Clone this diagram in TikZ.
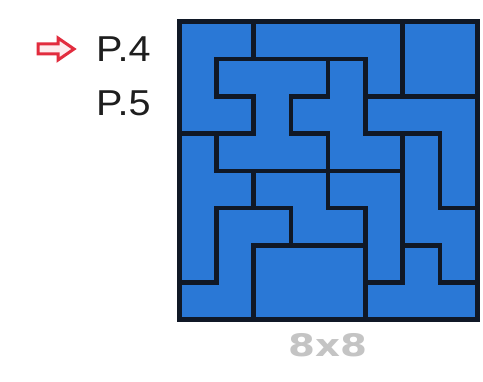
\documentclass[tikz,border=0pt]{standalone}
\usepackage{fontspec}
\setmainfont{Liberation Sans}
\newfontfamily\grayfont{DejaVu Sans}
\definecolor{tileblue}{RGB}{42,120,214}
\definecolor{wallc}{RGB}{16,24,38}
\definecolor{arrowred}{RGB}{226,44,62}
\definecolor{arrowfill}{RGB}{253,236,238}
\definecolor{labgray}{RGB}{196,196,196}
\definecolor{labtext}{RGB}{30,30,30}
\begin{document}
\begin{tikzpicture}[x=1pt,y=-1pt,
  wall/.style={draw=wallc,line width=4.5pt,line cap=rect,line join=miter},
  plabel/.style={font=\fontsize{36}{40}\selectfont,text=labtext,inner sep=0pt,anchor=base west}]
\useasboundingbox (0,0) rectangle (483,382);
\fill[white] (0,0) rectangle (483,382);
% arrow
\draw[draw=arrowred,fill=arrowfill,line width=3pt,line join=miter]
  (38,44) -- (58,44) -- (58,38) -- (74,49) -- (58,60) -- (58,54) -- (38,54) -- cycle;
\node[plabel] (p4) at (96,62) {\scalebox{1.1}[1]{P.4}};
\node[plabel] (p5) at (96,116) {\scalebox{1.1}[1]{P.5}};
\begin{scope}[shift={(179,22)},x=37.25pt,y=-37.25pt]
  \fill[tileblue] (0,0) rectangle (8,8);
  \draw[wall] (1,2)--(1,1)--(5,1)--(5,3)--(7,3)--(7,5)--(8,5);
  \draw[wall] (2,0)--(2,1);
  \draw[wall] (6,0)--(6,2);
  \draw[wall] (5,2)--(8,2);
  \draw[wall] (1,2)--(2,2)--(2,3)--(0,3);
  \draw[wall] (4,1)--(4,2)--(3,2)--(3,3)--(4,3)--(4,5)--(5,5)--(5,8);
  \draw[wall] (1,3)--(1,4)--(6,4);
  \draw[wall] (6,3)--(6,7)--(5,7);
  \draw[wall] (2,4)--(2,5);
  \draw[wall] (3,6)--(3,5)--(1,5)--(1,7)--(0,7);
  \draw[wall] (2,8)--(2,6)--(5,6);
  \draw[wall] (6,6)--(7,6)--(7,7)--(8,7);
  \draw[draw=wallc,line width=5pt] (0,0) rectangle (8,8);
  \node[inner sep=0pt] (size) at (4,8.68) {\grayfont\bfseries\color{labgray}\fontsize{31}{36}\selectfont\scalebox{1.25}[1]{8x8}};
\end{scope}
\end{tikzpicture}
\end{document}
